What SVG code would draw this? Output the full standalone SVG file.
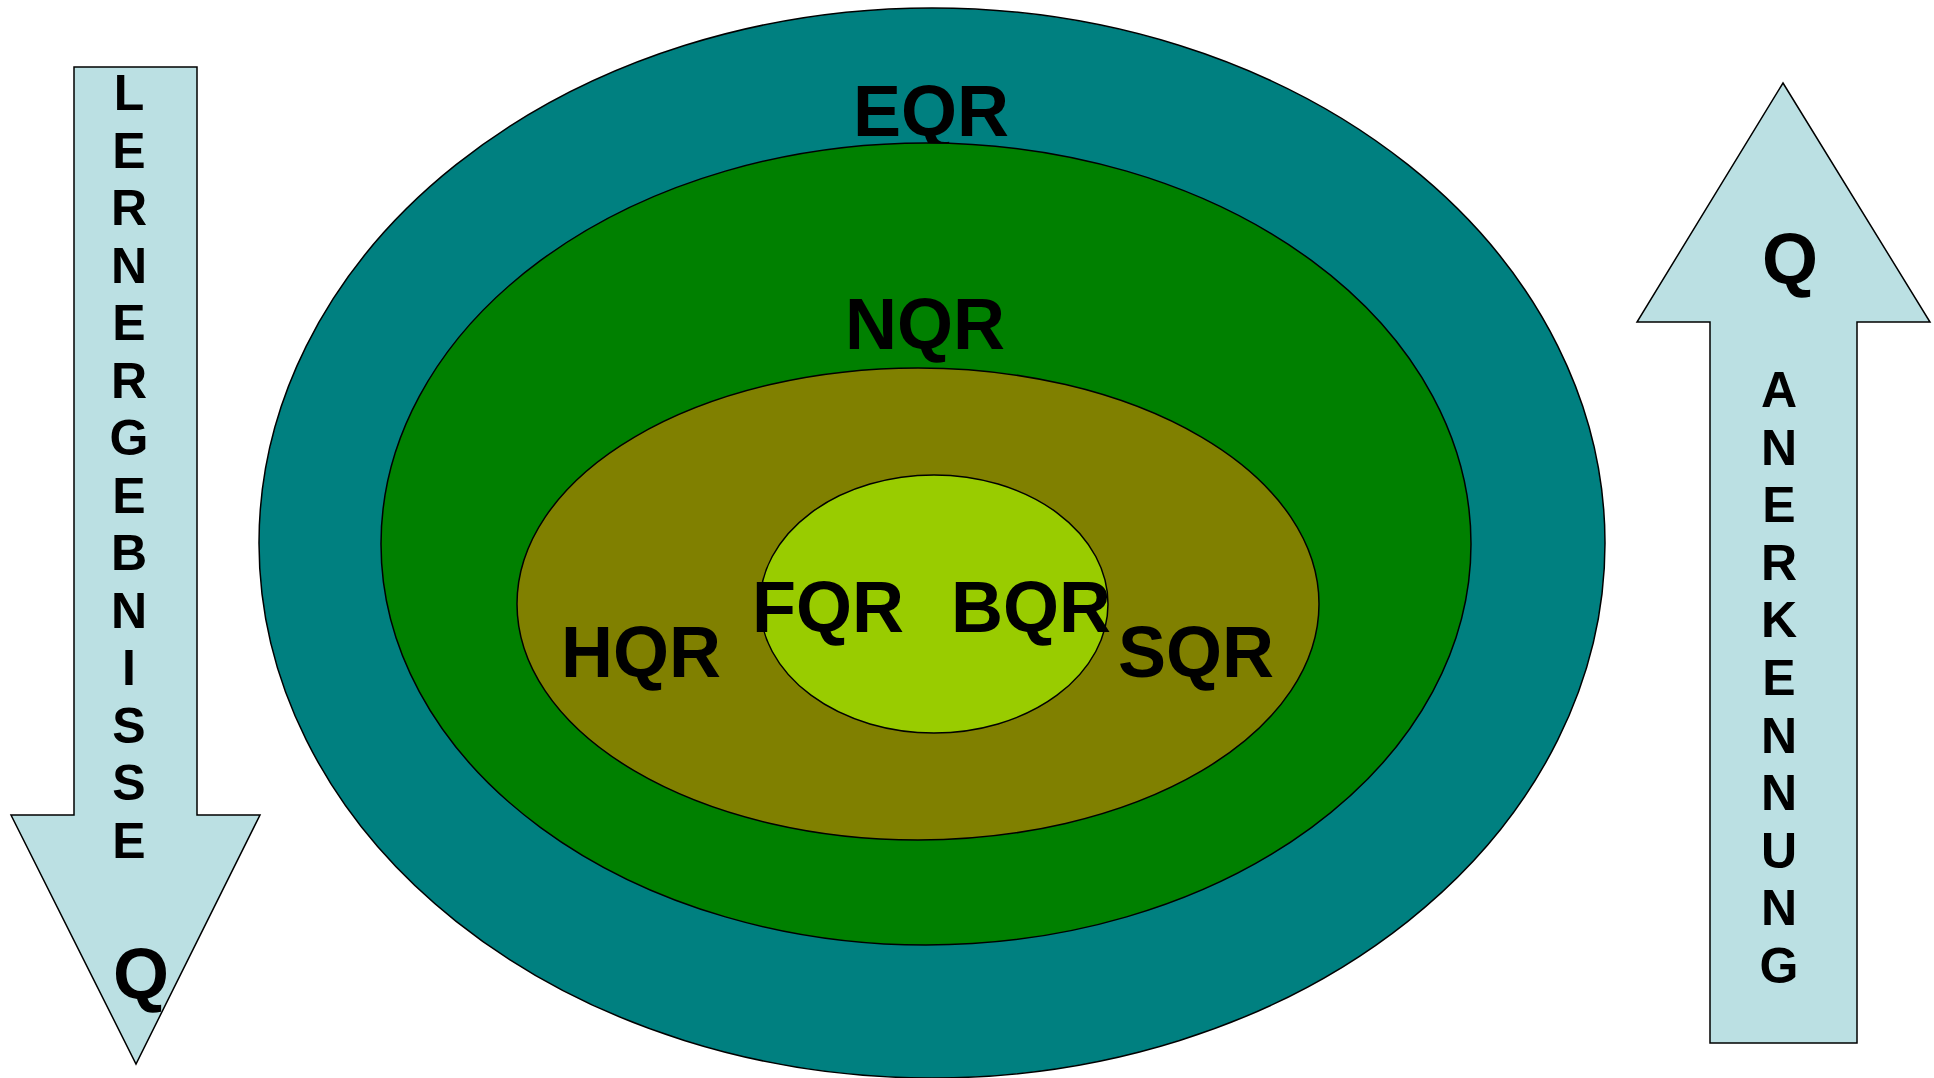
<svg xmlns="http://www.w3.org/2000/svg" width="1934" height="1078" viewBox="0 0 1934 1078">
<style>
.sh{stroke:#000;stroke-width:1.5}
.ar{fill:#BBE0E3;stroke:#000;stroke-width:1.5;stroke-linejoin:miter}
text{font-family:"Liberation Sans",Arial,sans-serif;font-weight:bold;fill:#000;text-anchor:middle}
.big{font-size:72px}
.let{font-size:50px}
</style>
<rect width="1934" height="1078" fill="#fff"/>
<g id="arrow-left">
<polygon class="ar" points="74,67 197,67 197,815 260,815 136,1064 11,815 74,815"/>
<text class="let" x="129"><tspan x="129" y="110">L</tspan><tspan x="129" y="167.5">E</tspan><tspan x="129" y="225">R</tspan><tspan x="129" y="282.5">N</tspan><tspan x="129" y="340">E</tspan><tspan x="129" y="397.5">R</tspan><tspan x="129" y="455">G</tspan><tspan x="129" y="512.5">E</tspan><tspan x="129" y="570">B</tspan><tspan x="129" y="627.5">N</tspan><tspan x="129" y="685">I</tspan><tspan x="129" y="742.5">S</tspan><tspan x="129" y="800">S</tspan><tspan x="129" y="857.5">E</tspan></text>
<text class="big" x="141" y="999">Q</text>
</g>
<g id="arrow-right">
<polygon class="ar" points="1783,83 1930,322 1857,322 1857,1043 1710,1043 1710,322 1637,322"/>
<text class="big" x="1790" y="284">Q</text>
<text class="let" x="1779"><tspan x="1779" y="407">A</tspan><tspan x="1779" y="464.6">N</tspan><tspan x="1779" y="522.2">E</tspan><tspan x="1779" y="579.8">R</tspan><tspan x="1779" y="637.4">K</tspan><tspan x="1779" y="695">E</tspan><tspan x="1779" y="752.6">N</tspan><tspan x="1779" y="810.2">N</tspan><tspan x="1779" y="867.8">U</tspan><tspan x="1779" y="925.4">N</tspan><tspan x="1779" y="983">G</tspan></text>
</g>
<g id="eqr">
<ellipse class="sh" cx="932" cy="543" rx="673" ry="535" fill="#008080"/>
<text class="big" x="931" y="136">EQR</text>
</g>
<g id="nqr">
<ellipse class="sh" cx="926" cy="544" rx="545" ry="401" fill="#008000"/>
<text class="big" x="925" y="349">NQR</text>
</g>
<g id="hqr-sqr">
<ellipse class="sh" cx="918" cy="604" rx="401" ry="236" fill="#808000"/>
<text class="big" x="641" y="677">HQR</text>
<text class="big" x="1196" y="677">SQR</text>
</g>
<g id="fqr-bqr">
<ellipse class="sh" cx="934" cy="604" rx="174" ry="129" fill="#99CC00"/>
<text class="big" x="828" y="632">FQR</text>
<text class="big" x="1031" y="632">BQR</text>
</g>
<g id="connectors"/>
</svg>
